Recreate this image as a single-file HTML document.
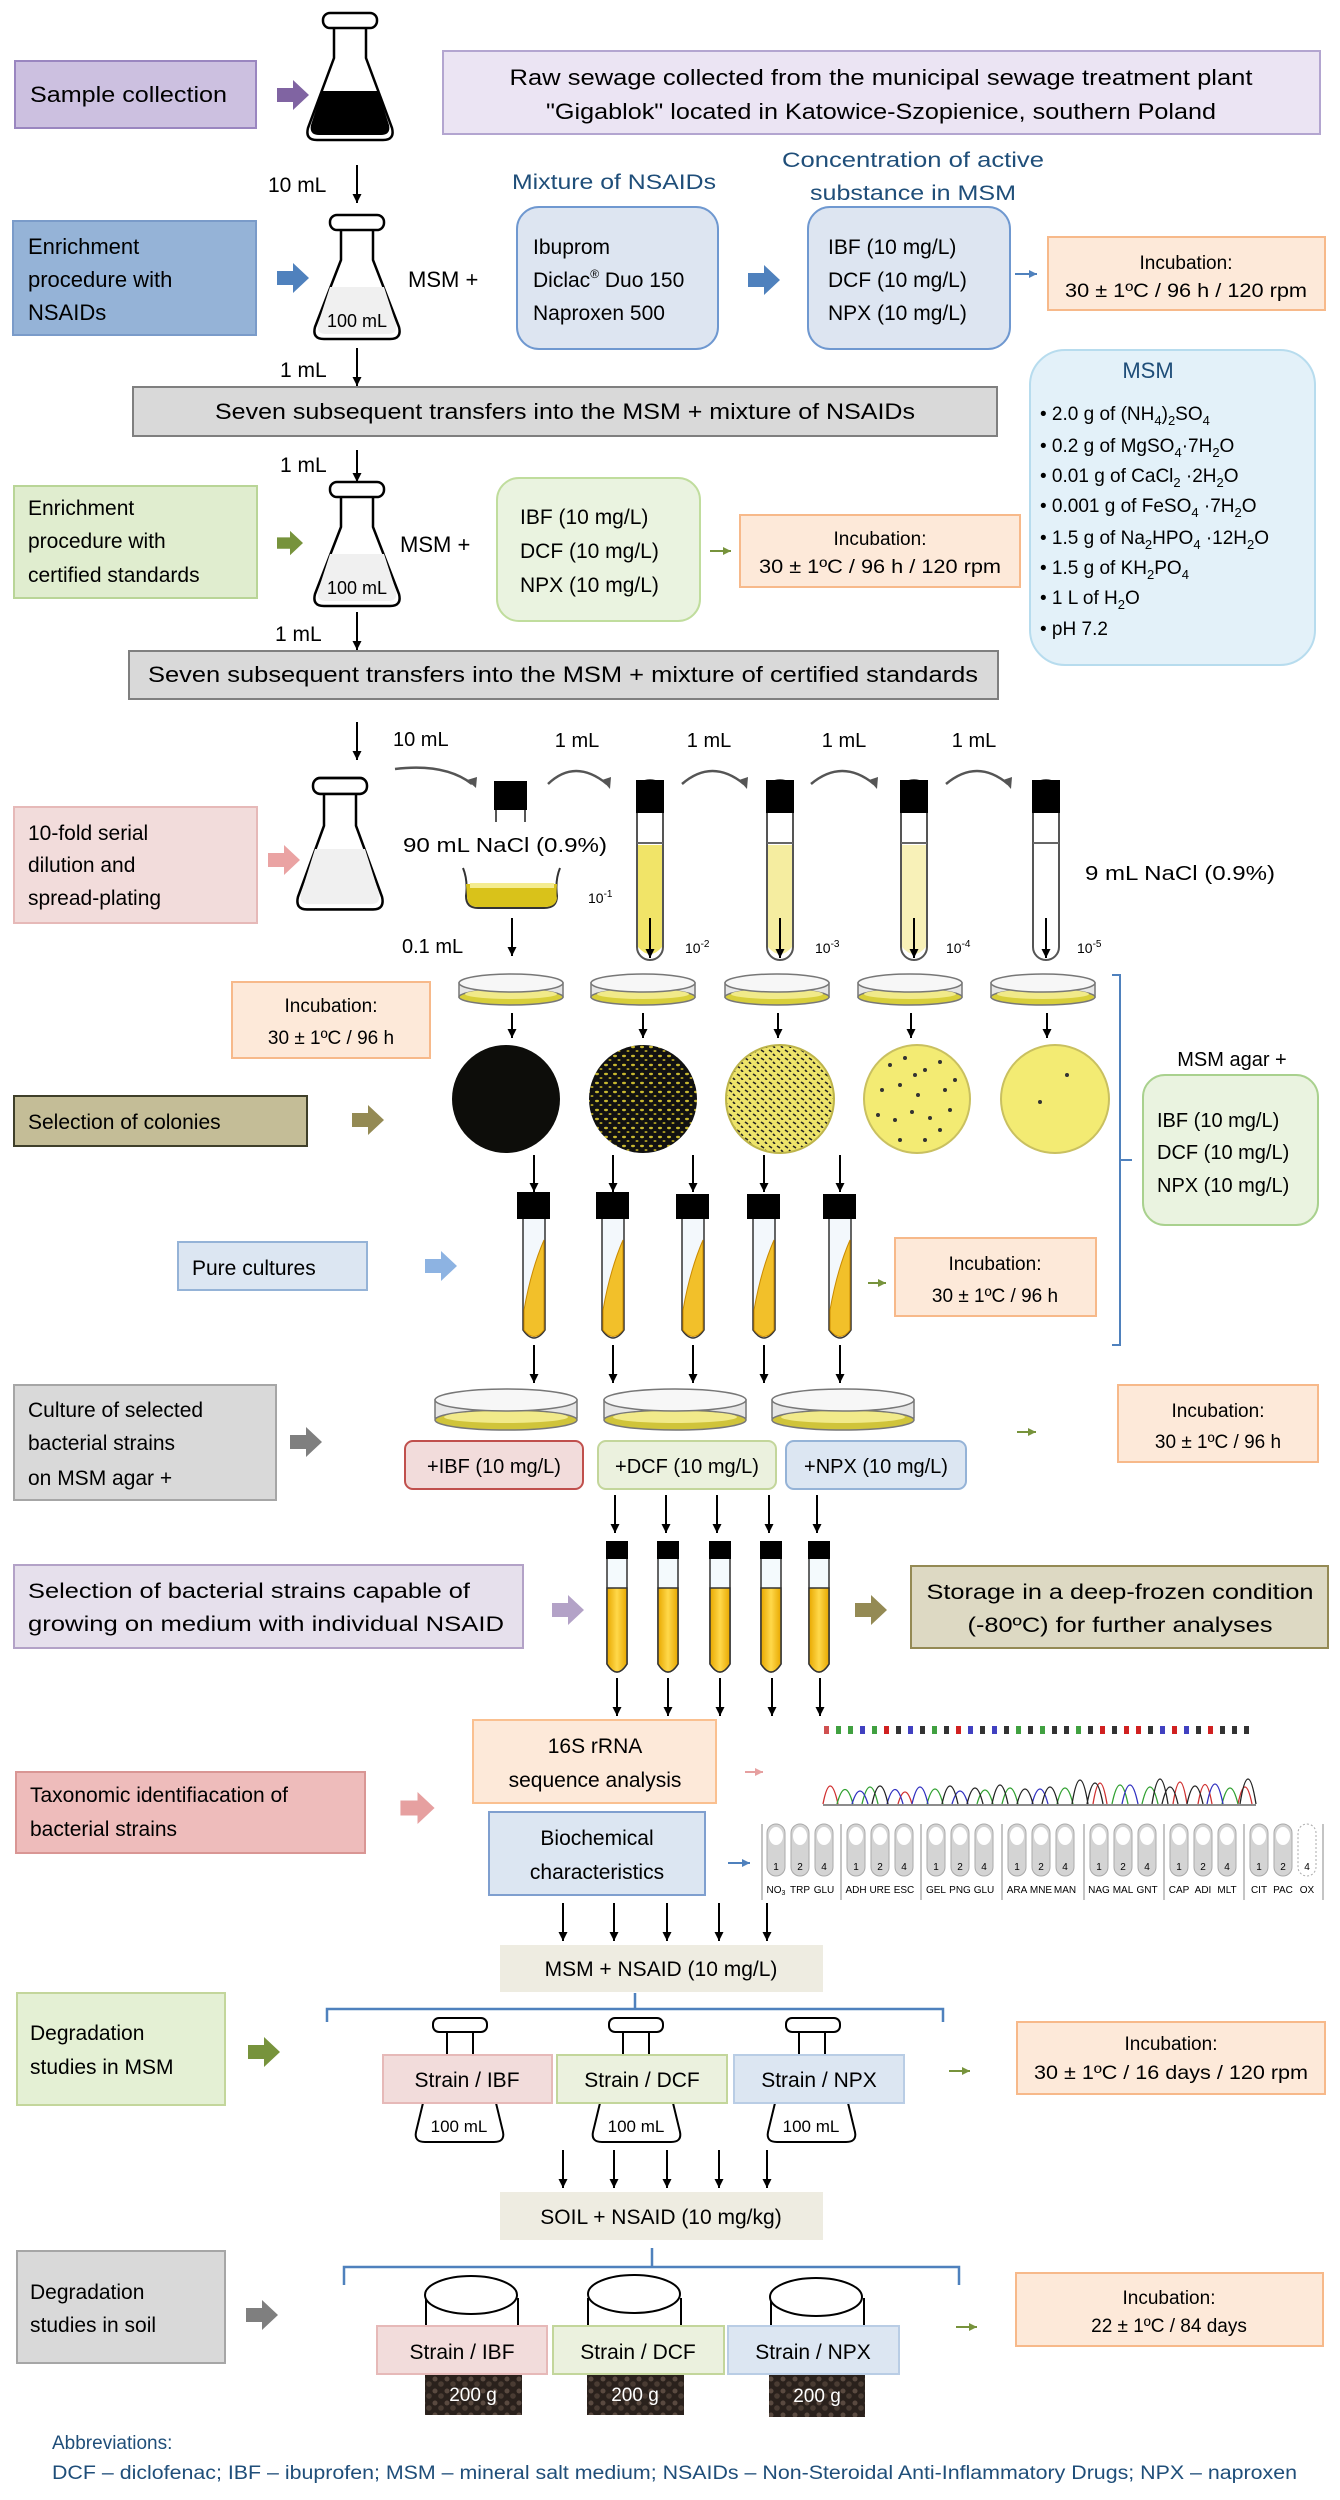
<!DOCTYPE html>
<html><head><meta charset="utf-8"><style>
html,body{margin:0;padding:0;background:#fff}
svg{display:block}
text{font-family:"Liberation Sans",sans-serif;fill:#000}
</style></head><body>
<svg width="1340" height="2500" viewBox="0 0 1340 2500" xmlns="http://www.w3.org/2000/svg">
<defs>
<marker id="ah" viewBox="0 0 10 10" refX="10" refY="5" markerWidth="9" markerHeight="10" markerUnits="userSpaceOnUse" orient="auto"><path d="M0,0 L10,5 L0,10z" fill="#000"/></marker>
<marker id="ag" viewBox="0 0 10 10" refX="10" refY="5" markerWidth="8" markerHeight="9" markerUnits="userSpaceOnUse" orient="auto"><path d="M0,0 L10,5 L0,10z" fill="#77933c"/></marker>
<marker id="ab" viewBox="0 0 10 10" refX="10" refY="5" markerWidth="8" markerHeight="9" markerUnits="userSpaceOnUse" orient="auto"><path d="M0,0 L10,5 L0,10z" fill="#4f81bd"/></marker>
<marker id="ap" viewBox="0 0 10 10" refX="10" refY="5" markerWidth="8" markerHeight="9" markerUnits="userSpaceOnUse" orient="auto"><path d="M0,0 L10,5 L0,10z" fill="#e6a0a0"/></marker>
<symbol id="ba" viewBox="0 0 32 30"><polygon points="0,8 16,8 16,0 32,15 16,30 16,22 0,22" fill="currentColor"/></symbol>
<pattern id="spk" width="9" height="9" patternUnits="userSpaceOnUse"><rect width="9" height="9" fill="#111"/><ellipse cx="3" cy="3" rx="2" ry="1.2" fill="#c8b830"/><ellipse cx="7" cy="7" rx="1.5" ry="1" fill="#a89820"/></pattern>
<pattern id="dash" width="8" height="8" patternUnits="userSpaceOnUse"><rect width="8" height="8" fill="#eee46a"/><path d="M1,2 L4,4 M5,6 L7,8" stroke="#222" stroke-width="1.6"/></pattern>
<pattern id="soil" width="12" height="12" patternUnits="userSpaceOnUse"><rect width="12" height="12" fill="#2a211c"/><circle cx="3" cy="3" r="2.5" fill="#5a4a40"/><circle cx="9" cy="8" r="2.8" fill="#4a3c33"/></pattern>
<linearGradient id="yel" x1="0" x2="1"><stop offset="0" stop-color="#e8a800"/><stop offset=".5" stop-color="#ffd84a"/><stop offset="1" stop-color="#e8a800"/></linearGradient>
</defs>

<rect x="15" y="61" width="241" height="67" fill="#ccc0e0" stroke="#9a86c0" stroke-width="2"/>
<text x="30" y="102" font-size="22" textLength="197" lengthAdjust="spacingAndGlyphs">Sample collection</text>
<use href="#ba" x="277" y="80" width="32" height="30" style="color:#8064a2"/>
<g transform="translate(350,13)" stroke="#000" stroke-width="2.5">
<path d="M-16,15 L-16,45 L-42,115 Q-45,127 -33,127 L33,127 Q45,127 42,115 L16,45 L16,15" fill="#fff"/>
<path d="M-28,78 L-39,112 Q-41,122 -31,122 L31,122 Q41,122 39,112 L28,78 Z" fill="#000" stroke="none"/>
<rect x="-27" y="0" width="54" height="15" rx="7" fill="#fff"/></g>
<rect x="443" y="51" width="877" height="83" fill="#ebe4f3" stroke="#b3a5d0" stroke-width="2"/>
<text x="881" y="85" font-size="22" text-anchor="middle" textLength="743" lengthAdjust="spacingAndGlyphs">Raw sewage collected from the municipal sewage treatment plant</text>
<text x="881" y="119" font-size="22" text-anchor="middle" textLength="670" lengthAdjust="spacingAndGlyphs">"Gigablok" located in Katowice-Szopienice, southern Poland</text>

<text x="268" y="192" font-size="21">10 mL</text>
<line x1="357" y1="165" x2="357" y2="203" stroke="#000" stroke-width="2" marker-end="url(#ah)"/>
<text x="512" y="189" font-size="21" style="fill:#1f4e79" textLength="204" lengthAdjust="spacingAndGlyphs">Mixture of NSAIDs</text>
<text x="913" y="167" font-size="21" text-anchor="middle" style="fill:#1f4e79" textLength="262" lengthAdjust="spacingAndGlyphs">Concentration of active</text>
<text x="913" y="200" font-size="21" text-anchor="middle" style="fill:#1f4e79" textLength="206" lengthAdjust="spacingAndGlyphs">substance in MSM</text>

<rect x="13" y="221" width="243" height="114" fill="#95b3d7" stroke="#7a9bc9" stroke-width="2"/>
<text x="28" y="254" font-size="22">Enrichment</text>
<text x="28" y="287" font-size="22">procedure with</text>
<text x="28" y="320" font-size="22">NSAIDs</text>
<use href="#ba" x="277" y="263" width="32" height="30" style="color:#4f81bd"/>
<g transform="translate(357,215)" stroke="#000" stroke-width="2.5">
<path d="M-16,15 L-16,45 L-42,112 Q-45,124 -33,124 L33,124 Q45,124 42,112 L16,45 L16,15" fill="#fff"/>
<path d="M-27,72 L-39,109 Q-41,119 -31,119 L31,119 Q41,119 39,109 L27,72 Z" fill="#f0f0f0" stroke="none"/>
<rect x="-27" y="0" width="54" height="15" rx="7" fill="#fff"/>
<text x="0" y="112" font-size="18" text-anchor="middle" stroke="none">100 mL</text></g>
<text x="408" y="287" font-size="22">MSM +</text>
<rect x="517" y="207" width="201" height="142" rx="22" fill="#dde5f1" stroke="#6f98d0" stroke-width="2"/>
<text x="533" y="254" font-size="21">Ibuprom</text>
<text x="533" y="287" font-size="21">Diclac<tspan font-size="12" dy="-9">®</tspan><tspan dy="9"> Duo 150</tspan></text>
<text x="533" y="320" font-size="21">Naproxen 500</text>
<use href="#ba" x="748" y="265" width="32" height="30" style="color:#4f81bd"/>
<rect x="808" y="207" width="202" height="142" rx="22" fill="#dde5f1" stroke="#6f98d0" stroke-width="2"/>
<text x="828" y="254" font-size="21">IBF (10 mg/L)</text>
<text x="828" y="287" font-size="21">DCF (10 mg/L)</text>
<text x="828" y="320" font-size="21">NPX (10 mg/L)</text>
<line x1="1015" y1="274" x2="1037" y2="274" stroke="#4f81bd" stroke-width="2" marker-end="url(#ab)"/>
<rect x="1048" y="237" width="277" height="73" fill="#fde9d9" stroke="#f7b98a" stroke-width="2"/>
<text x="1186" y="269" font-size="19" text-anchor="middle">Incubation:</text>
<text x="1186" y="297" font-size="19" text-anchor="middle" textLength="242" lengthAdjust="spacingAndGlyphs">30 ± 1ºC / 96 h / 120 rpm</text>

<text x="280" y="377" font-size="21">1 mL</text>
<line x1="357" y1="348" x2="357" y2="386" stroke="#000" stroke-width="2" marker-end="url(#ah)"/>
<rect x="133" y="387" width="864" height="49" fill="#d9d9d9" stroke="#7f7f7f" stroke-width="2"/>
<text x="565" y="419" font-size="22" text-anchor="middle" textLength="700" lengthAdjust="spacingAndGlyphs">Seven subsequent transfers into the MSM + mixture of NSAIDs</text>

<rect x="1030" y="350" width="285" height="315" rx="35" fill="#e3f1f9" stroke="#b7dcee" stroke-width="2"/>
<text x="1148" y="378" font-size="22" text-anchor="middle" style="fill:#1f4e79">MSM</text>
<g font-size="19">
<text x="1040" y="420">• 2.0 g of (NH<tspan font-size="13" dy="5">4</tspan><tspan dy="-5">)</tspan><tspan font-size="13" dy="5">2</tspan><tspan dy="-5">SO</tspan><tspan font-size="13" dy="5">4</tspan></text>
<text x="1040" y="452">• 0.2 g of MgSO<tspan font-size="13" dy="5">4</tspan><tspan dy="-5">·7H</tspan><tspan font-size="13" dy="5">2</tspan><tspan dy="-5">O</tspan></text>
<text x="1040" y="482">• 0.01 g of CaCl<tspan font-size="13" dy="5">2</tspan><tspan dy="-5"> ·2H</tspan><tspan font-size="13" dy="5">2</tspan><tspan dy="-5">O</tspan></text>
<text x="1040" y="512">• 0.001 g of FeSO<tspan font-size="13" dy="5">4</tspan><tspan dy="-5"> ·7H</tspan><tspan font-size="13" dy="5">2</tspan><tspan dy="-5">O</tspan></text>
<text x="1040" y="544">• 1.5 g of Na<tspan font-size="13" dy="5">2</tspan><tspan dy="-5">HPO</tspan><tspan font-size="13" dy="5">4</tspan><tspan dy="-5"> ·12H</tspan><tspan font-size="13" dy="5">2</tspan><tspan dy="-5">O</tspan></text>
<text x="1040" y="574">• 1.5 g of KH<tspan font-size="13" dy="5">2</tspan><tspan dy="-5">PO</tspan><tspan font-size="13" dy="5">4</tspan></text>
<text x="1040" y="604">• 1 L of H<tspan font-size="13" dy="5">2</tspan><tspan dy="-5">O</tspan></text>
<text x="1040" y="635">• pH 7.2</text>
</g>

<text x="280" y="472" font-size="21">1 mL</text>
<line x1="357" y1="450" x2="357" y2="482" stroke="#000" stroke-width="2" marker-end="url(#ah)"/>
<rect x="14" y="486" width="243" height="112" fill="#e0edcf" stroke="#b9d597" stroke-width="2"/>
<text x="28" y="515" font-size="21">Enrichment</text>
<text x="28" y="548" font-size="21">procedure with</text>
<text x="28" y="582" font-size="21">certified standards</text>
<use href="#ba" x="277" y="528" width="26" height="30" style="color:#77933c"/>
<g transform="translate(357,482)" stroke="#000" stroke-width="2.5">
<path d="M-16,15 L-16,45 L-42,112 Q-45,124 -33,124 L33,124 Q45,124 42,112 L16,45 L16,15" fill="#fff"/>
<path d="M-27,72 L-39,109 Q-41,119 -31,119 L31,119 Q41,119 39,109 L27,72 Z" fill="#f0f0f0" stroke="none"/>
<rect x="-27" y="0" width="54" height="15" rx="7" fill="#fff"/>
<text x="0" y="112" font-size="18" text-anchor="middle" stroke="none">100 mL</text></g>
<text x="400" y="552" font-size="22">MSM +</text>
<rect x="497" y="478" width="203" height="143" rx="22" fill="#eaf3e0" stroke="#c0dd9d" stroke-width="2"/>
<text x="520" y="524" font-size="21">IBF (10 mg/L)</text>
<text x="520" y="558" font-size="21">DCF (10 mg/L)</text>
<text x="520" y="592" font-size="21">NPX (10 mg/L)</text>
<line x1="710" y1="551" x2="731" y2="551" stroke="#77933c" stroke-width="2" marker-end="url(#ag)"/>
<rect x="740" y="515" width="280" height="72" fill="#fde9d9" stroke="#f7b98a" stroke-width="2"/>
<text x="880" y="545" font-size="19" text-anchor="middle">Incubation:</text>
<text x="880" y="573" font-size="19" text-anchor="middle" textLength="242" lengthAdjust="spacingAndGlyphs">30 ± 1ºC / 96 h / 120 rpm</text>
<text x="275" y="641" font-size="21">1 mL</text>
<line x1="357" y1="612" x2="357" y2="650" stroke="#000" stroke-width="2" marker-end="url(#ah)"/>
<rect x="129" y="651" width="869" height="48" fill="#d9d9d9" stroke="#7f7f7f" stroke-width="2"/>
<text x="563" y="682" font-size="22" text-anchor="middle" textLength="830" lengthAdjust="spacingAndGlyphs">Seven subsequent transfers into the MSM + mixture of certified standards</text>

<line x1="357" y1="722" x2="357" y2="760" stroke="#000" stroke-width="2" marker-end="url(#ah)"/>
<text x="393" y="746" font-size="20">10 mL</text>
<text x="577" y="747" font-size="20" text-anchor="middle">1 mL</text>
<text x="709" y="747" font-size="20" text-anchor="middle">1 mL</text>
<text x="844" y="747" font-size="20" text-anchor="middle">1 mL</text>
<text x="974" y="747" font-size="20" text-anchor="middle">1 mL</text>
<g fill="none" stroke="#555" stroke-width="2.5">
<path d="M395,769 Q445,763 472,784"/>
<path d="M548,784 Q575,758 607,784"/>
<path d="M682,784 Q712,758 744,784"/>
<path d="M811,784 Q842,758 874,784"/>
<path d="M946,784 Q977,758 1008,784"/>
</g>
<g fill="#555"><path d="M467,780 L476,788 L477,777z"/><path d="M602,780 L610,789 L611,777z"/><path d="M739,780 L747,789 L748,777z"/><path d="M869,780 L877,789 L878,777z"/><path d="M1003,780 L1011,789 L1012,777z"/></g>

<rect x="14" y="807" width="243" height="116" fill="#f2dcdb" stroke="#e6b9b8" stroke-width="2"/>
<text x="28" y="840" font-size="21">10-fold serial</text>
<text x="28" y="872" font-size="21">dilution and</text>
<text x="28" y="905" font-size="21">spread-plating</text>
<use href="#ba" x="268" y="845" width="32" height="30" style="color:#eaa3a3"/>
<g transform="translate(340,778) scale(1,1.06)" stroke="#000" stroke-width="2.5">
<path d="M-16,15 L-16,45 L-42,112 Q-45,124 -33,124 L33,124 Q45,124 42,112 L16,45 L16,15" fill="#fff"/>
<path d="M-25,67 L-39,109 Q-41,119 -31,119 L31,119 Q41,119 39,109 L25,67 Z" fill="#f0f0f0" stroke="none"/>
<rect x="-27" y="0" width="54" height="15" rx="7" fill="#fff"/></g>
<rect x="494" y="781" width="33" height="29" fill="#000"/>
<line x1="496" y1="810" x2="496" y2="822" stroke="#555" stroke-width="2"/><line x1="525" y1="810" x2="525" y2="822" stroke="#555" stroke-width="2"/>
<text x="403" y="852" font-size="20" textLength="204" lengthAdjust="spacingAndGlyphs">90 mL NaCl (0.9%)</text>
<path d="M463,868 Q468,880 466,896 Q466,908 478,908 L544,908 Q557,908 557,896 Q555,880 560,868" fill="#fff" stroke="#333" stroke-width="2"/>
<path d="M466,884 L557,884 Q556,896 557,898 Q556,907 544,907 L478,907 Q467,907 467,896 Z" fill="#d9c21a"/>
<rect x="470" y="883" width="84" height="5" fill="#f4ec90"/>
<text x="588" y="903" font-size="14">10<tspan font-size="10" dy="-6">-1</tspan></text>
<g stroke="#555" stroke-width="2">
<rect x="637" y="780" width="26" height="180" rx="13" fill="#fff"/>
<rect x="767" y="780" width="26" height="180" rx="13" fill="#fff"/>
<rect x="901" y="780" width="26" height="180" rx="13" fill="#fff"/>
<rect x="1033" y="780" width="26" height="180" rx="13" fill="#fff"/>
</g>
<path d="M638,845 L662,845 L662,947 Q650,961 638,947Z" fill="#f1e468"/>
<path d="M768,845 L792,845 L792,947 Q780,961 768,947Z" fill="#f5eda0"/>
<path d="M902,845 L926,845 L926,947 Q914,961 902,947Z" fill="#f8f1b8"/>
<g fill="#000"><rect x="636" y="780" width="28" height="33"/><rect x="766" y="780" width="28" height="33"/><rect x="900" y="780" width="28" height="33"/><rect x="1032" y="780" width="28" height="33"/></g>
<g stroke="#666" stroke-width="2"><line x1="637" y1="843" x2="663" y2="843"/><line x1="767" y1="843" x2="793" y2="843"/><line x1="901" y1="843" x2="927" y2="843"/><line x1="1033" y1="843" x2="1059" y2="843"/></g>
<g stroke="#000" stroke-width="2"><line x1="650" y1="918" x2="650" y2="958" marker-end="url(#ah)"/><line x1="780" y1="918" x2="780" y2="958" marker-end="url(#ah)"/><line x1="914" y1="918" x2="914" y2="958" marker-end="url(#ah)"/><line x1="1046" y1="918" x2="1046" y2="958" marker-end="url(#ah)"/>
<line x1="512" y1="918" x2="512" y2="956" marker-end="url(#ah)"/></g>
<text x="1085" y="880" font-size="20" textLength="190" lengthAdjust="spacingAndGlyphs">9 mL NaCl (0.9%)</text>
<text x="402" y="953" font-size="20">0.1 mL</text>
<g font-size="14"><text x="685" y="953">10<tspan font-size="10" dy="-6">-2</tspan></text><text x="815" y="953">10<tspan font-size="10" dy="-6">-3</tspan></text><text x="946" y="953">10<tspan font-size="10" dy="-6">-4</tspan></text><text x="1077" y="953">10<tspan font-size="10" dy="-6">-5</tspan></text></g>

<g stroke="#777" stroke-width="1.5">
<g transform="translate(511,0)"><rect x="-52" y="983" width="104" height="14" fill="#e6e6e6"/><ellipse cx="0" cy="997" rx="52" ry="8" fill="#d8cf3a"/><ellipse cx="0" cy="994" rx="46" ry="5" fill="#f1ea8a" stroke="none"/><ellipse cx="0" cy="983" rx="52" ry="9" fill="#f7f7f7"/></g>
<g transform="translate(643,0)"><rect x="-52" y="983" width="104" height="14" fill="#e6e6e6"/><ellipse cx="0" cy="997" rx="52" ry="8" fill="#d8cf3a"/><ellipse cx="0" cy="994" rx="46" ry="5" fill="#f1ea8a" stroke="none"/><ellipse cx="0" cy="983" rx="52" ry="9" fill="#f7f7f7"/></g>
<g transform="translate(777,0)"><rect x="-52" y="983" width="104" height="14" fill="#e6e6e6"/><ellipse cx="0" cy="997" rx="52" ry="8" fill="#d8cf3a"/><ellipse cx="0" cy="994" rx="46" ry="5" fill="#f1ea8a" stroke="none"/><ellipse cx="0" cy="983" rx="52" ry="9" fill="#f7f7f7"/></g>
<g transform="translate(910,0)"><rect x="-52" y="983" width="104" height="14" fill="#e6e6e6"/><ellipse cx="0" cy="997" rx="52" ry="8" fill="#d8cf3a"/><ellipse cx="0" cy="994" rx="46" ry="5" fill="#f1ea8a" stroke="none"/><ellipse cx="0" cy="983" rx="52" ry="9" fill="#f7f7f7"/></g>
<g transform="translate(1043,0)"><rect x="-52" y="983" width="104" height="14" fill="#e6e6e6"/><ellipse cx="0" cy="997" rx="52" ry="8" fill="#d8cf3a"/><ellipse cx="0" cy="994" rx="46" ry="5" fill="#f1ea8a" stroke="none"/><ellipse cx="0" cy="983" rx="52" ry="9" fill="#f7f7f7"/></g>
</g>
<rect x="232" y="982" width="198" height="76" fill="#fde9d9" stroke="#f7b98a" stroke-width="2"/>
<text x="331" y="1012" font-size="19" text-anchor="middle">Incubation:</text>
<text x="331" y="1044" font-size="19" text-anchor="middle">30 ± 1ºC / 96 h</text>
<g stroke="#000" stroke-width="2"><line x1="512" y1="1013" x2="512" y2="1038" marker-end="url(#ah)"/><line x1="643" y1="1013" x2="643" y2="1038" marker-end="url(#ah)"/><line x1="778" y1="1013" x2="778" y2="1038" marker-end="url(#ah)"/><line x1="911" y1="1013" x2="911" y2="1038" marker-end="url(#ah)"/><line x1="1047" y1="1013" x2="1047" y2="1038" marker-end="url(#ah)"/></g>
<ellipse cx="506" cy="1099" rx="54" ry="54" fill="#0d0d0a"/>
<ellipse cx="643" cy="1099" rx="54" ry="54" fill="url(#spk)"/>
<ellipse cx="780" cy="1099" rx="54" ry="54" fill="url(#dash)" stroke="#bdb44a" stroke-width="2"/>
<ellipse cx="917" cy="1099" rx="53" ry="54" fill="#f3eb73" stroke="#c9c060" stroke-width="2"/>
<ellipse cx="1055" cy="1099" rx="54" ry="54" fill="#f3eb73" stroke="#c9c060" stroke-width="2"/>
<g fill="#333"><circle cx="890" cy="1065" r="2"/><circle cx="905" cy="1058" r="2"/><circle cx="925" cy="1070" r="2"/><circle cx="940" cy="1062" r="2"/><circle cx="882" cy="1090" r="2"/><circle cx="900" cy="1085" r="2"/><circle cx="918" cy="1095" r="2"/><circle cx="945" cy="1090" r="2"/><circle cx="955" cy="1080" r="2"/><circle cx="878" cy="1115" r="2"/><circle cx="895" cy="1120" r="2"/><circle cx="912" cy="1112" r="2"/><circle cx="930" cy="1118" r="2"/><circle cx="950" cy="1110" r="2"/><circle cx="900" cy="1140" r="2"/><circle cx="925" cy="1140" r="2"/><circle cx="940" cy="1130" r="2"/><circle cx="915" cy="1075" r="2"/><circle cx="1067" cy="1075" r="2"/><circle cx="1040" cy="1102" r="2"/></g>
<rect x="14" y="1096" width="293" height="50" fill="#c4bd97" stroke="#3f3f2a" stroke-width="2"/>
<text x="28" y="1129" font-size="21">Selection of colonies</text>
<use href="#ba" x="352" y="1105" width="32" height="30" style="color:#948a54"/>
<path d="M1112,975 L1120,975 L1120,1345 L1112,1345 M1120,1160 L1132,1160" fill="none" stroke="#4f81bd" stroke-width="2"/>
<text x="1232" y="1066" font-size="20" text-anchor="middle">MSM agar +</text>
<rect x="1143" y="1075" width="175" height="150" rx="22" fill="#eaf3e0" stroke="#a9d18e" stroke-width="2"/>
<text x="1157" y="1127" font-size="20">IBF (10 mg/L)</text>
<text x="1157" y="1159" font-size="20">DCF (10 mg/L)</text>
<text x="1157" y="1192" font-size="20">NPX (10 mg/L)</text>
<g stroke="#000" stroke-width="2"><line x1="534" y1="1155" x2="534" y2="1192" marker-end="url(#ah)"/><line x1="613" y1="1155" x2="613" y2="1192" marker-end="url(#ah)"/><line x1="693" y1="1155" x2="693" y2="1192" marker-end="url(#ah)"/><line x1="764" y1="1155" x2="764" y2="1192" marker-end="url(#ah)"/><line x1="840" y1="1155" x2="840" y2="1192" marker-end="url(#ah)"/>
<line x1="534" y1="1345" x2="534" y2="1383" marker-end="url(#ah)"/><line x1="613" y1="1345" x2="613" y2="1383" marker-end="url(#ah)"/><line x1="693" y1="1345" x2="693" y2="1383" marker-end="url(#ah)"/><line x1="764" y1="1345" x2="764" y2="1383" marker-end="url(#ah)"/><line x1="840" y1="1345" x2="840" y2="1383" marker-end="url(#ah)"/></g>
<g>
<g transform="translate(534,0)"><path d="M-11,1218 L-11,1330 Q0,1346 11,1330 L11,1218" fill="#f3f8fc" stroke="#333" stroke-width="1.5"/><path d="M10,1240 L10,1330 Q0,1343 -10,1330 L-10,1310 Q-3,1270 10,1240Z" fill="#f2c02a" stroke="#c98a00"/><rect x="-17" y="1192" width="33" height="27" fill="#000"/></g>
<g transform="translate(613,0)"><path d="M-11,1218 L-11,1330 Q0,1346 11,1330 L11,1218" fill="#f3f8fc" stroke="#333" stroke-width="1.5"/><path d="M10,1240 L10,1330 Q0,1343 -10,1330 L-10,1310 Q-3,1270 10,1240Z" fill="#f2c02a" stroke="#c98a00"/><rect x="-17" y="1192" width="33" height="27" fill="#000"/></g>
<g transform="translate(693,0)"><path d="M-11,1218 L-11,1330 Q0,1346 11,1330 L11,1218" fill="#f3f8fc" stroke="#333" stroke-width="1.5"/><path d="M10,1240 L10,1330 Q0,1343 -10,1330 L-10,1310 Q-3,1270 10,1240Z" fill="#f2c02a" stroke="#c98a00"/><rect x="-17" y="1194" width="33" height="25" fill="#000"/></g>
<g transform="translate(764,0)"><path d="M-11,1218 L-11,1330 Q0,1346 11,1330 L11,1218" fill="#f3f8fc" stroke="#333" stroke-width="1.5"/><path d="M10,1240 L10,1330 Q0,1343 -10,1330 L-10,1310 Q-3,1270 10,1240Z" fill="#f2c02a" stroke="#c98a00"/><rect x="-17" y="1194" width="33" height="25" fill="#000"/></g>
<g transform="translate(840,0)"><path d="M-11,1218 L-11,1330 Q0,1346 11,1330 L11,1218" fill="#f3f8fc" stroke="#333" stroke-width="1.5"/><path d="M10,1240 L10,1330 Q0,1343 -10,1330 L-10,1310 Q-3,1270 10,1240Z" fill="#f2c02a" stroke="#c98a00"/><rect x="-17" y="1194" width="33" height="25" fill="#000"/></g>
</g>
<rect x="178" y="1242" width="189" height="48" fill="#dce6f2" stroke="#95b3d7" stroke-width="2"/>
<text x="192" y="1275" font-size="21">Pure cultures</text>
<use href="#ba" x="425" y="1251" width="32" height="30" style="color:#8db3e2"/>
<line x1="868" y1="1283" x2="886" y2="1283" stroke="#77933c" stroke-width="2" marker-end="url(#ag)"/>
<rect x="895" y="1238" width="201" height="78" fill="#fde9d9" stroke="#f7b98a" stroke-width="2"/>
<text x="995" y="1270" font-size="19" text-anchor="middle">Incubation:</text>
<text x="995" y="1302" font-size="19" text-anchor="middle">30 ± 1ºC / 96 h</text>

<g stroke="#777" stroke-width="1.5">
<g transform="translate(506,0)"><rect x="-71" y="1400" width="142" height="18" fill="#e6e6e6"/><ellipse cx="0" cy="1420" rx="71" ry="10" fill="#d0c43a"/><ellipse cx="0" cy="1417" rx="62" ry="6" fill="#f1ea8a" stroke="none"/><ellipse cx="0" cy="1400" rx="71" ry="11" fill="#f7f7f7"/></g>
<g transform="translate(675,0)"><rect x="-71" y="1400" width="142" height="18" fill="#e6e6e6"/><ellipse cx="0" cy="1420" rx="71" ry="10" fill="#d0c43a"/><ellipse cx="0" cy="1417" rx="62" ry="6" fill="#f1ea8a" stroke="none"/><ellipse cx="0" cy="1400" rx="71" ry="11" fill="#f7f7f7"/></g>
<g transform="translate(843,0)"><rect x="-71" y="1400" width="142" height="18" fill="#e6e6e6"/><ellipse cx="0" cy="1420" rx="71" ry="10" fill="#d0c43a"/><ellipse cx="0" cy="1417" rx="62" ry="6" fill="#f1ea8a" stroke="none"/><ellipse cx="0" cy="1400" rx="71" ry="11" fill="#f7f7f7"/></g>
</g>
<rect x="14" y="1385" width="262" height="115" fill="#d9d9d9" stroke="#a6a6a6" stroke-width="2"/>
<text x="28" y="1417" font-size="21">Culture of selected</text>
<text x="28" y="1450" font-size="21">bacterial strains</text>
<text x="28" y="1485" font-size="21">on MSM agar +</text>
<use href="#ba" x="290" y="1427" width="32" height="30" style="color:#7f7f7f"/>
<rect x="405" y="1441" width="178" height="48" rx="8" fill="#f2dcdb" stroke="#c0504d" stroke-width="2"/>
<rect x="598" y="1441" width="178" height="48" rx="8" fill="#ebf1de" stroke="#c3d69b" stroke-width="2"/>
<rect x="786" y="1441" width="180" height="48" rx="8" fill="#dce6f2" stroke="#95b3d7" stroke-width="2"/>
<text x="494" y="1473" font-size="20" text-anchor="middle">+IBF (10 mg/L)</text>
<text x="687" y="1473" font-size="20" text-anchor="middle">+DCF (10 mg/L)</text>
<text x="876" y="1473" font-size="20" text-anchor="middle">+NPX (10 mg/L)</text>
<line x1="1017" y1="1432" x2="1036" y2="1432" stroke="#77933c" stroke-width="2" marker-end="url(#ag)"/>
<rect x="1118" y="1385" width="200" height="77" fill="#fde9d9" stroke="#f7b98a" stroke-width="2"/>
<text x="1218" y="1417" font-size="19" text-anchor="middle">Incubation:</text>
<text x="1218" y="1448" font-size="19" text-anchor="middle">30 ± 1ºC / 96 h</text>
<g stroke="#000" stroke-width="2"><line x1="615" y1="1495" x2="615" y2="1533" marker-end="url(#ah)"/><line x1="666" y1="1495" x2="666" y2="1533" marker-end="url(#ah)"/><line x1="717" y1="1495" x2="717" y2="1533" marker-end="url(#ah)"/><line x1="769" y1="1495" x2="769" y2="1533" marker-end="url(#ah)"/><line x1="817" y1="1495" x2="817" y2="1533" marker-end="url(#ah)"/></g>

<g>
<g transform="translate(617,0)"><path d="M-10,1558 L-10,1664 Q0,1680 10,1664 L10,1558Z" fill="#f4fafd" stroke="#333" stroke-width="1.5"/><path d="M-10,1588 L10,1588 L10,1664 Q0,1680 -10,1664Z" fill="url(#yel)" stroke="#333" stroke-width="1.5"/><rect x="-11" y="1541" width="22" height="18" fill="#000"/></g>
<g transform="translate(668,0)"><path d="M-10,1558 L-10,1664 Q0,1680 10,1664 L10,1558Z" fill="#f4fafd" stroke="#333" stroke-width="1.5"/><path d="M-10,1588 L10,1588 L10,1664 Q0,1680 -10,1664Z" fill="url(#yel)" stroke="#333" stroke-width="1.5"/><rect x="-11" y="1541" width="22" height="18" fill="#000"/></g>
<g transform="translate(720,0)"><path d="M-10,1558 L-10,1664 Q0,1680 10,1664 L10,1558Z" fill="#f4fafd" stroke="#333" stroke-width="1.5"/><path d="M-10,1588 L10,1588 L10,1664 Q0,1680 -10,1664Z" fill="url(#yel)" stroke="#333" stroke-width="1.5"/><rect x="-11" y="1541" width="22" height="18" fill="#000"/></g>
<g transform="translate(771,0)"><path d="M-10,1558 L-10,1664 Q0,1680 10,1664 L10,1558Z" fill="#f4fafd" stroke="#333" stroke-width="1.5"/><path d="M-10,1588 L10,1588 L10,1664 Q0,1680 -10,1664Z" fill="url(#yel)" stroke="#333" stroke-width="1.5"/><rect x="-11" y="1541" width="22" height="18" fill="#000"/></g>
<g transform="translate(819,0)"><path d="M-10,1558 L-10,1664 Q0,1680 10,1664 L10,1558Z" fill="#f4fafd" stroke="#333" stroke-width="1.5"/><path d="M-10,1588 L10,1588 L10,1664 Q0,1680 -10,1664Z" fill="url(#yel)" stroke="#333" stroke-width="1.5"/><rect x="-11" y="1541" width="22" height="18" fill="#000"/></g>
</g>
<rect x="14" y="1565" width="509" height="83" fill="#e6e0ec" stroke="#b3a2c7" stroke-width="2"/>
<text x="28" y="1598" font-size="21" textLength="442" lengthAdjust="spacingAndGlyphs">Selection of bacterial strains capable of</text>
<text x="28" y="1631" font-size="21" textLength="476" lengthAdjust="spacingAndGlyphs">growing on medium with individual NSAID</text>
<use href="#ba" x="552" y="1595" width="32" height="30" style="color:#b3a2c7"/>
<use href="#ba" x="855" y="1595" width="32" height="30" style="color:#948a54"/>
<rect x="911" y="1566" width="417" height="82" fill="#ddd9c3" stroke="#948a54" stroke-width="2"/>
<text x="1120" y="1599" font-size="21" text-anchor="middle" textLength="387" lengthAdjust="spacingAndGlyphs">Storage in a deep-frozen condition</text>
<text x="1120" y="1632" font-size="21" text-anchor="middle" textLength="305" lengthAdjust="spacingAndGlyphs">(-80ºC) for further analyses</text>
<g stroke="#000" stroke-width="2"><line x1="617" y1="1678" x2="617" y2="1716" marker-end="url(#ah)"/><line x1="668" y1="1678" x2="668" y2="1716" marker-end="url(#ah)"/><line x1="720" y1="1678" x2="720" y2="1716" marker-end="url(#ah)"/><line x1="772" y1="1678" x2="772" y2="1716" marker-end="url(#ah)"/><line x1="820" y1="1678" x2="820" y2="1716" marker-end="url(#ah)"/></g>

<rect x="473" y="1720" width="243" height="83" fill="#fde9d9" stroke="#fac090" stroke-width="2"/>
<text x="595" y="1753" font-size="21" text-anchor="middle">16S rRNA</text>
<text x="595" y="1787" font-size="21" text-anchor="middle">sequence analysis</text>
<line x1="745" y1="1772" x2="763" y2="1772" stroke="#e6a0a0" stroke-width="2" marker-end="url(#ap)"/>
<g>
<g fill="#333"><rect x="824" y="1726" width="5" height="8" fill="#d05050"/><rect x="836" y="1726" width="5" height="8" fill="#40a040"/><rect x="848" y="1726" width="5" height="8" fill="#40a040"/><rect x="860" y="1726" width="5" height="8" fill="#4040c0"/><rect x="872" y="1726" width="5" height="8" fill="#40a040"/><rect x="884" y="1726" width="5" height="8" fill="#d02020"/><rect x="896" y="1726" width="5" height="8"/><rect x="908" y="1726" width="5" height="8" fill="#4040c0"/><rect x="920" y="1726" width="5" height="8"/><rect x="932" y="1726" width="5" height="8" fill="#40a040"/><rect x="944" y="1726" width="5" height="8"/><rect x="956" y="1726" width="5" height="8" fill="#d02020"/><rect x="968" y="1726" width="5" height="8" fill="#4040c0"/><rect x="980" y="1726" width="5" height="8"/><rect x="992" y="1726" width="5" height="8" fill="#4040c0"/><rect x="1004" y="1726" width="5" height="8"/><rect x="1016" y="1726" width="5" height="8" fill="#40a040"/><rect x="1028" y="1726" width="5" height="8"/><rect x="1040" y="1726" width="5" height="8" fill="#40a040"/><rect x="1052" y="1726" width="5" height="8"/><rect x="1064" y="1726" width="5" height="8"/><rect x="1076" y="1726" width="5" height="8" fill="#40a040"/><rect x="1088" y="1726" width="5" height="8"/><rect x="1100" y="1726" width="5" height="8" fill="#d02020"/><rect x="1112" y="1726" width="5" height="8"/><rect x="1124" y="1726" width="5" height="8" fill="#d02020"/><rect x="1136" y="1726" width="5" height="8" fill="#d02020"/><rect x="1148" y="1726" width="5" height="8"/><rect x="1160" y="1726" width="5" height="8" fill="#4040c0"/><rect x="1172" y="1726" width="5" height="8" fill="#d02020"/><rect x="1184" y="1726" width="5" height="8" fill="#4040c0"/><rect x="1196" y="1726" width="5" height="8"/><rect x="1208" y="1726" width="5" height="8" fill="#d02020"/><rect x="1220" y="1726" width="5" height="8"/><rect x="1232" y="1726" width="5" height="8"/><rect x="1244" y="1726" width="5" height="8"/></g>
<g fill="none" stroke-width="1.3">
<path stroke="#d03030" d="M823,1804 Q830,1768 838,1804 M898,1804 Q905,1780 912,1804 M1093,1804 Q1100,1762 1107,1804 M1173,1804 Q1180,1760 1187,1804 M1198,1804 Q1205,1765 1212,1804 M1238,1804 Q1245,1770 1252,1804"/>
<path stroke="#30a030" d="M837,1804 Q845,1775 853,1804 M862,1804 Q870,1770 878,1804 M927,1804 Q935,1774 943,1804 M977,1804 Q985,1776 993,1804 M1002,1804 Q1010,1772 1018,1804 M1057,1804 Q1065,1772 1073,1804 M1112,1804 Q1120,1766 1128,1804 M1142,1804 Q1150,1770 1158,1804 M1222,1804 Q1230,1772 1238,1804"/>
<path stroke="#3030c0" d="M852,1804 Q860,1778 868,1804 M887,1804 Q895,1775 903,1804 M912,1804 Q920,1770 928,1804 M952,1804 Q960,1778 968,1804 M1032,1804 Q1040,1774 1048,1804 M1122,1804 Q1130,1766 1138,1804 M1207,1804 Q1215,1764 1223,1804"/>
<path stroke="#222" d="M872,1804 Q880,1768 888,1804 M942,1804 Q950,1768 958,1804 M967,1804 Q975,1772 983,1804 M992,1804 Q1000,1766 1008,1804 M1017,1804 Q1025,1774 1033,1804 M1042,1804 Q1050,1770 1058,1804 M1072,1804 Q1080,1756 1088,1804 M1087,1804 Q1095,1762 1103,1804 M1152,1804 Q1160,1754 1168,1804 M1162,1804 Q1170,1770 1178,1804 M1187,1804 Q1195,1768 1203,1804 M1240,1804 Q1248,1754 1256,1804"/>
</g>
<line x1="823" y1="1805" x2="1256" y2="1805" stroke="#666" stroke-width="1.5"/>
</g>
<rect x="16" y="1772" width="349" height="81" fill="#eebcbb" stroke="#d99694" stroke-width="2"/>
<text x="30" y="1802" font-size="21">Taxonomic identifiacation of</text>
<text x="30" y="1836" font-size="21">bacterial strains</text>
<use href="#ba" x="400" y="1792" width="35" height="32" style="color:#e6a0a0"/>
<rect x="489" y="1812" width="216" height="83" fill="#dce6f2" stroke="#7f9fcf" stroke-width="2"/>
<text x="597" y="1845" font-size="21" text-anchor="middle">Biochemical</text>
<text x="597" y="1879" font-size="21" text-anchor="middle">characteristics</text>
<line x1="728" y1="1863" x2="750" y2="1863" stroke="#4f81bd" stroke-width="2" marker-end="url(#ab)"/>
<g>
<g fill="#d4d4d4" stroke="#aaa" stroke-width="1">
<rect x="767" y="1824" width="18" height="52" rx="9"/><rect x="791" y="1824" width="18" height="52" rx="9"/><rect x="815" y="1824" width="18" height="52" rx="9"/>
<rect x="847" y="1824" width="18" height="52" rx="9"/><rect x="871" y="1824" width="18" height="52" rx="9"/><rect x="895" y="1824" width="18" height="52" rx="9"/>
<rect x="927" y="1824" width="18" height="52" rx="9"/><rect x="951" y="1824" width="18" height="52" rx="9"/><rect x="975" y="1824" width="18" height="52" rx="9"/>
<rect x="1008" y="1824" width="18" height="52" rx="9"/><rect x="1032" y="1824" width="18" height="52" rx="9"/><rect x="1056" y="1824" width="18" height="52" rx="9"/>
<rect x="1090" y="1824" width="18" height="52" rx="9"/><rect x="1114" y="1824" width="18" height="52" rx="9"/><rect x="1138" y="1824" width="18" height="52" rx="9"/>
<rect x="1170" y="1824" width="18" height="52" rx="9"/><rect x="1194" y="1824" width="18" height="52" rx="9"/><rect x="1218" y="1824" width="18" height="52" rx="9"/>
<rect x="1250" y="1824" width="18" height="52" rx="9"/><rect x="1274" y="1824" width="18" height="52" rx="9"/>
<rect x="1298" y="1824" width="18" height="52" rx="9" fill="#fff" stroke-dasharray="2,2"/>
</g>
<g fill="#fff"><ellipse cx="776" cy="1836" rx="7" ry="9"/><ellipse cx="800" cy="1836" rx="7" ry="9"/><ellipse cx="824" cy="1836" rx="7" ry="9"/><ellipse cx="856" cy="1836" rx="7" ry="9"/><ellipse cx="880" cy="1836" rx="7" ry="9"/><ellipse cx="904" cy="1836" rx="7" ry="9"/><ellipse cx="936" cy="1836" rx="7" ry="9"/><ellipse cx="960" cy="1836" rx="7" ry="9"/><ellipse cx="984" cy="1836" rx="7" ry="9"/><ellipse cx="1017" cy="1836" rx="7" ry="9"/><ellipse cx="1041" cy="1836" rx="7" ry="9"/><ellipse cx="1065" cy="1836" rx="7" ry="9"/><ellipse cx="1099" cy="1836" rx="7" ry="9"/><ellipse cx="1123" cy="1836" rx="7" ry="9"/><ellipse cx="1147" cy="1836" rx="7" ry="9"/><ellipse cx="1179" cy="1836" rx="7" ry="9"/><ellipse cx="1203" cy="1836" rx="7" ry="9"/><ellipse cx="1227" cy="1836" rx="7" ry="9"/><ellipse cx="1259" cy="1836" rx="7" ry="9"/><ellipse cx="1283" cy="1836" rx="7" ry="9"/></g>
<g stroke="#888" stroke-width="1"><line x1="762" y1="1824" x2="762" y2="1900"/><line x1="841" y1="1824" x2="841" y2="1900"/><line x1="921" y1="1824" x2="921" y2="1900"/><line x1="1002" y1="1824" x2="1002" y2="1900"/><line x1="1084" y1="1824" x2="1084" y2="1900"/><line x1="1164" y1="1824" x2="1164" y2="1900"/><line x1="1244" y1="1824" x2="1244" y2="1900"/><line x1="1323" y1="1824" x2="1323" y2="1900"/></g>
<g font-size="10" text-anchor="middle" style="fill:#444">
<text x="776" y="1870">1</text><text x="800" y="1870">2</text><text x="824" y="1870">4</text><text x="856" y="1870">1</text><text x="880" y="1870">2</text><text x="904" y="1870">4</text><text x="936" y="1870">1</text><text x="960" y="1870">2</text><text x="984" y="1870">4</text><text x="1017" y="1870">1</text><text x="1041" y="1870">2</text><text x="1065" y="1870">4</text><text x="1099" y="1870">1</text><text x="1123" y="1870">2</text><text x="1147" y="1870">4</text><text x="1179" y="1870">1</text><text x="1203" y="1870">2</text><text x="1227" y="1870">4</text><text x="1259" y="1870">1</text><text x="1283" y="1870">2</text><text x="1307" y="1870">4</text>
<text x="776" y="1893">NO<tspan font-size="7" dy="2">3</tspan></text><text x="800" y="1893">TRP</text><text x="824" y="1893">GLU</text><text x="856" y="1893">ADH</text><text x="880" y="1893">URE</text><text x="904" y="1893">ESC</text><text x="936" y="1893">GEL</text><text x="960" y="1893">PNG</text><text x="984" y="1893">GLU</text><text x="1017" y="1893">ARA</text><text x="1041" y="1893">MNE</text><text x="1065" y="1893">MAN</text><text x="1099" y="1893">NAG</text><text x="1123" y="1893">MAL</text><text x="1147" y="1893">GNT</text><text x="1179" y="1893">CAP</text><text x="1203" y="1893">ADI</text><text x="1227" y="1893">MLT</text><text x="1259" y="1893">CIT</text><text x="1283" y="1893">PAC</text><text x="1307" y="1893">OX</text>
</g></g>
<g stroke="#000" stroke-width="2"><line x1="563" y1="1903" x2="563" y2="1941" marker-end="url(#ah)"/><line x1="614" y1="1903" x2="614" y2="1941" marker-end="url(#ah)"/><line x1="667" y1="1903" x2="667" y2="1941" marker-end="url(#ah)"/><line x1="719" y1="1903" x2="719" y2="1941" marker-end="url(#ah)"/><line x1="767" y1="1903" x2="767" y2="1941" marker-end="url(#ah)"/></g>
<rect x="500" y="1945" width="323" height="47" fill="#eeece1"/>
<text x="661" y="1976" font-size="21" text-anchor="middle">MSM + NSAID (10 mg/L)</text>
<path d="M327,2022 L327,2009 L943,2009 L943,2022 M635,1993 L635,2009" fill="none" stroke="#4f81bd" stroke-width="2.5"/>

<rect x="17" y="1993" width="208" height="112" fill="#e4f0d4" stroke="#c3d69b" stroke-width="2"/>
<text x="30" y="2040" font-size="21">Degradation</text>
<text x="30" y="2074" font-size="21">studies in MSM</text>
<use href="#ba" x="248" y="2037" width="32" height="30" style="color:#77933c"/>
<g stroke="#000" stroke-width="2" fill="#fff">
<line x1="447" y1="2030" x2="447" y2="2058"/><line x1="473" y1="2030" x2="473" y2="2058"/>
<line x1="623" y1="2030" x2="623" y2="2058"/><line x1="649" y1="2030" x2="649" y2="2058"/>
<line x1="799" y1="2030" x2="799" y2="2058"/><line x1="825" y1="2030" x2="825" y2="2058"/>
<rect x="433" y="2018" width="54" height="14" rx="6"/><rect x="609" y="2018" width="54" height="14" rx="6"/><rect x="786" y="2018" width="54" height="14" rx="6"/>
<path d="M423,2103 L416,2132 Q414,2142 425,2142 L494,2142 Q505,2142 503,2132 L496,2103"/>
<path d="M600,2103 L593,2132 Q591,2142 602,2142 L671,2142 Q682,2142 680,2132 L673,2103"/>
<path d="M775,2103 L768,2132 Q766,2142 777,2142 L846,2142 Q857,2142 855,2132 L848,2103"/>
</g>
<g font-size="17" text-anchor="middle"><text x="459" y="2132">100 mL</text><text x="636" y="2132">100 mL</text><text x="811" y="2132">100 mL</text></g>
<rect x="383" y="2055" width="169" height="48" fill="#f2dcdb" stroke="#e6b9b8" stroke-width="2"/>
<rect x="557" y="2055" width="170" height="48" fill="#ebf1de" stroke="#c3d69b" stroke-width="2"/>
<rect x="734" y="2055" width="170" height="48" fill="#dce6f2" stroke="#b9cde5" stroke-width="2"/>
<text x="467" y="2087" font-size="21" text-anchor="middle">Strain / IBF</text>
<text x="642" y="2087" font-size="21" text-anchor="middle">Strain / DCF</text>
<text x="819" y="2087" font-size="21" text-anchor="middle">Strain / NPX</text>
<line x1="949" y1="2071" x2="970" y2="2071" stroke="#77933c" stroke-width="2" marker-end="url(#ag)"/>
<rect x="1017" y="2022" width="308" height="72" fill="#fde9d9" stroke="#f7b98a" stroke-width="2"/>
<text x="1171" y="2050" font-size="19" text-anchor="middle">Incubation:</text>
<text x="1171" y="2079" font-size="19" text-anchor="middle" textLength="274" lengthAdjust="spacingAndGlyphs">30 ± 1ºC / 16 days / 120 rpm</text>
<g stroke="#000" stroke-width="2"><line x1="563" y1="2150" x2="563" y2="2188" marker-end="url(#ah)"/><line x1="614" y1="2150" x2="614" y2="2188" marker-end="url(#ah)"/><line x1="667" y1="2150" x2="667" y2="2188" marker-end="url(#ah)"/><line x1="719" y1="2150" x2="719" y2="2188" marker-end="url(#ah)"/><line x1="767" y1="2150" x2="767" y2="2188" marker-end="url(#ah)"/></g>
<rect x="500" y="2192" width="323" height="48" fill="#eeece1"/>
<text x="661" y="2224" font-size="21" text-anchor="middle">SOIL + NSAID (10 mg/kg)</text>
<path d="M344,2285 L344,2267 L959,2267 L959,2285 M652,2248 L652,2267" fill="none" stroke="#4f81bd" stroke-width="2.5"/>

<rect x="17" y="2251" width="208" height="112" fill="#d9d9d9" stroke="#a6a6a6" stroke-width="2"/>
<text x="30" y="2299" font-size="21">Degradation</text>
<text x="30" y="2332" font-size="21">studies in soil</text>
<use href="#ba" x="246" y="2300" width="32" height="30" style="color:#7f7f7f"/>
<g fill="#fff" stroke="#000" stroke-width="2">
<path d="M426,2327 L426,2298 M518,2327 L518,2298"/><path d="M588,2327 L588,2298 M681,2327 L681,2298"/><path d="M771,2327 L771,2298 M864,2327 L864,2298"/>
<ellipse cx="471" cy="2295" rx="46" ry="19"/><ellipse cx="634" cy="2294" rx="46" ry="19"/><ellipse cx="816" cy="2297" rx="46" ry="19"/>
</g>
<rect x="425" y="2375" width="97" height="40" fill="url(#soil)"/>
<rect x="587" y="2375" width="97" height="40" fill="url(#soil)"/>
<rect x="769" y="2375" width="96" height="42" fill="url(#soil)"/>
<g font-size="19" text-anchor="middle"><text x="473" y="2401" style="fill:#fff">200 g</text><text x="635" y="2401" style="fill:#fff">200 g</text><text x="817" y="2402" style="fill:#fff">200 g</text></g>
<rect x="377" y="2326" width="170" height="48" fill="#f2dcdb" stroke="#e6b9b8" stroke-width="2"/>
<rect x="553" y="2326" width="171" height="48" fill="#ebf1de" stroke="#c3d69b" stroke-width="2"/>
<rect x="728" y="2326" width="171" height="48" fill="#dce6f2" stroke="#b9cde5" stroke-width="2"/>
<text x="462" y="2359" font-size="21" text-anchor="middle">Strain / IBF</text>
<text x="638" y="2359" font-size="21" text-anchor="middle">Strain / DCF</text>
<text x="813" y="2359" font-size="21" text-anchor="middle">Strain / NPX</text>
<line x1="956" y1="2327" x2="977" y2="2327" stroke="#77933c" stroke-width="2" marker-end="url(#ag)"/>
<rect x="1016" y="2273" width="307" height="73" fill="#fde9d9" stroke="#f7b98a" stroke-width="2"/>
<text x="1169" y="2304" font-size="19" text-anchor="middle">Incubation:</text>
<text x="1169" y="2332" font-size="19" text-anchor="middle">22 ± 1ºC / 84 days</text>

<text x="52" y="2449" font-size="19" style="fill:#1f4e79">Abbreviations:</text>
<text x="52" y="2479" font-size="19" style="fill:#1f4e79" textLength="1245" lengthAdjust="spacingAndGlyphs">DCF – diclofenac; IBF – ibuprofen; MSM – mineral salt medium; NSAIDs – Non-Steroidal Anti-Inflammatory Drugs; NPX – naproxen</text>
</svg>
</body></html>
